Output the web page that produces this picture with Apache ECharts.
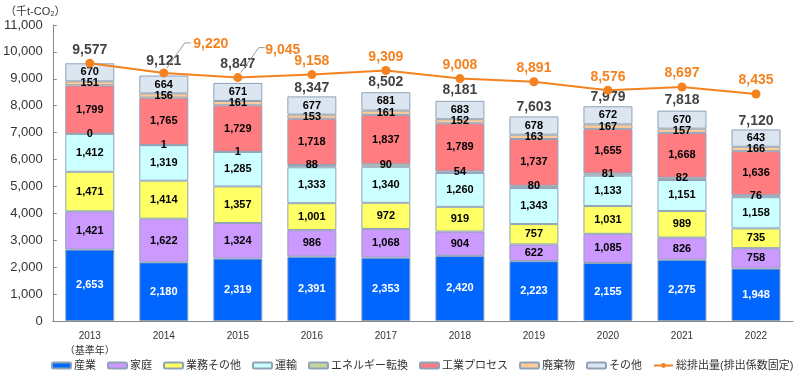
<!DOCTYPE html>
<html><head><meta charset="utf-8">
<script src="https://cdn.jsdelivr.net/npm/echarts@6/dist/echarts.min.js"></script>
<style>html,body{margin:0;padding:0;background:#fff}#c{width:800px;height:381px}</style>
</head><body><div id="c"></div>
<script>
const categories = ['2013\n（基準年）','2014','2015','2016','2017','2018','2019','2020','2021','2022'];
const sangyo = [2653,2180,2319,2391,2353,2420,2223,2155,2275,1948];
const katei = [1421,1622,1324,986,1068,904,622,1085,826,758];
const gyomu = [1471,1414,1357,1001,972,919,757,1031,989,735];
const unyu = [1412,1319,1285,1333,1340,1260,1343,1133,1151,1158];
const energy = [0,1,1,88,90,54,80,81,82,76];
const process = [1799,1765,1729,1718,1837,1789,1737,1655,1668,1636];
const waste = [151,156,161,153,161,152,163,167,157,166];
const other = [670,664,671,677,681,683,678,672,670,643];
const totals = [9577,9121,8847,8347,8502,8181,7603,7979,7818,7120];
const fixedTotal = [9577,9220,9045,9158,9309,9008,8891,8576,8697,8435];
const leaderIdx = [1,2];

const FONT = '"Liberation Sans", "Noto Sans CJK JP", sans-serif';
const fmt = v => Number(v).toLocaleString('en-US');
const border = '#8FA3B8';
const ORANGE = '#F58220';
// vertical nudges of total labels (layout only)
const totalLabelNudge = [-3,-4,-9,2,0,-1,1,1,0,2];
function barSeries(name, data, color, textColor){
  return {
    name, type:'bar', stack:'t', data, barWidth:49,
    itemStyle:{color, borderColor:border, borderWidth:1},
    label:{show:true, position:'inside', formatter:p=>fmt(p.value), color:textColor||'#000',
      fontWeight:'bold', fontSize:11, fontFamily:FONT},
    emphasis:{disabled:true}, z:2
  };
}
const chart = echarts.init(document.getElementById('c'));
const sEnergy = barSeries('エネルギー転換', energy, '#C4D79B');
sEnergy.label.position = 'top'; sEnergy.label.distance = -6;
chart.setOption({
  animation:false,
  textStyle:{fontFamily:FONT},
  grid:{left:50, right:7, top:25, bottom:60},
  graphic:[{type:'text', left:5, top:6, style:{text:'（千t-CO₂）', font:'11px '+FONT, fill:'#333'}}],
  legend:{bottom:5, left:46, itemWidth:19, itemHeight:6, itemGap:11,
    textStyle:{fontSize:11, color:'#333', fontFamily:FONT, padding:[0,0,0,-2]},
    data:['産業','家庭','業務その他','運輸','エネルギー転換','工業プロセス','廃棄物','その他','総排出量(排出係数固定)']},
  xAxis:{type:'category', data:categories,
    axisLine:{lineStyle:{color:'#888'}}, axisTick:{show:false},
    axisLabel:{color:'#333', fontSize:10, margin:8, lineHeight:15, fontFamily:FONT}},
  yAxis:{type:'value', min:0, max:11000, interval:1000,
    axisLine:{show:true, lineStyle:{color:'#888'}}, axisTick:{show:true, inside:true, length:4, lineStyle:{color:'#888'}},
    splitLine:{show:false},
    axisLabel:{color:'#333', fontSize:13, margin:10, formatter:v=>fmt(v), fontFamily:FONT}},
  series:[
    barSeries('産業', sangyo, '#0066FF', '#fff'),
    barSeries('家庭', katei, '#CC99FF'),
    barSeries('業務その他', gyomu, '#FFFF66'),
    barSeries('運輸', unyu, '#CCFFFF'),
    sEnergy,
    barSeries('工業プロセス', process, '#FF7C80'),
    barSeries('廃棄物', waste, '#FFCC99'),
    barSeries('その他', other, '#DCE6F1'),
    {type:'scatter', data:totals, symbolSize:0, silent:true, z:3,
     label:{show:true, position:'top', distance:3, formatter:p=>fmt(p.value), color:'#111', fontWeight:'bold', fontSize:14, fontFamily:FONT},
     labelLayout:function(p){ return {dy: totalLabelNudge[p.dataIndex] || 0}; }},
    {type:'custom', silent:true, z:4,
     data: leaderIdx.map(i=>[i, fixedTotal[i]]),
     renderItem:function(params, api){
       const p = api.coord([api.value(0), api.value(1)]);
       return {type:'polyline', shape:{points:[[p[0]+3,p[1]-5],[p[0]+21,p[1]-30],[p[0]+27,p[1]-30]]},
         style:{stroke:'#999', lineWidth:1, fill:null}};
     }},
    {name:'総排出量(排出係数固定)', type:'line', data:fixedTotal, z:5,
     symbol:'circle', symbolSize:9, color:ORANGE,
     lineStyle:{color:ORANGE, width:2}, itemStyle:{color:ORANGE},
     label:{show:true, position:'top', distance:2, formatter:p=>p.dataIndex===0?'':fmt(p.value),
       color:ORANGE, fontWeight:'bold', fontSize:14, fontFamily:FONT},
     labelLayout:function(p){
       if(p.dataIndex===1) return {dx:47, dy:-15};
       if(p.dataIndex===2) return {dx:45, dy:-14};
       return {};
     }}
  ]
});
</script></body></html>
